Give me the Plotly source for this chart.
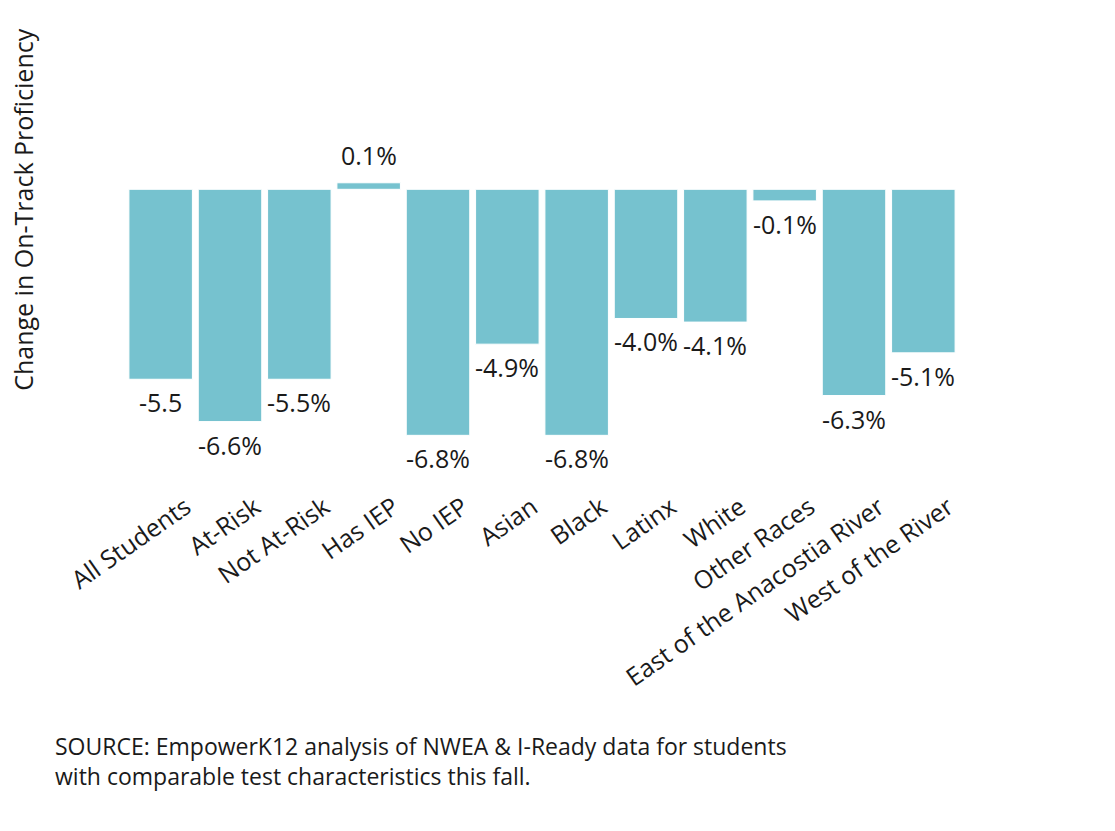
import plotly.graph_objects as go

# Categories (x-axis)
categories = ["All Students", "At-Risk", "Not At-Risk", "Has IEP", "No IEP", "Asian",
              "Black", "Latinx", "White", "Other Races", "East of the Anacostia River",
              "West of the River"]
# Bar lengths as drawn in the picture (percentage points)
bar_values = [-5.25, -6.42, -5.25, 0.18, -6.80, -4.28, -6.80, -3.57, -3.67, -0.32, -5.70, -4.52]
# Value labels printed on the chart
value_labels = ["-5.5", "-6.6%", "-5.5%", "0.1%", "-6.8%", "-4.9%", "-6.8%", "-4.0%",
                "-4.1%", "-0.1%", "-6.3%", "-5.1%"]
source_lines = ["SOURCE: EmpowerK12 analysis of NWEA &amp; I-Ready data for students",
                "with comparable test characteristics this fall."]

FONT = "Open Sans, Noto Sans, sans-serif"
TEXT = "#1a1a1a"
BAR = "#76C2CF"

fig = go.Figure()
fig.add_trace(go.Bar(
    x=categories, y=bar_values,
    marker=dict(color=BAR, line=dict(color="white", width=1)),
    hoverinfo="skip", showlegend=False,
))

annotations = []
for cat, val, lab in zip(categories, bar_values, value_labels):
    annotations.append(dict(
        x=cat, y=val, xref="x", yref="y", text=lab, showarrow=False,
        xanchor="center", yanchor="middle",
        yshift=(28 if val > 0 else -23),
        font=dict(family=FONT, size=25, color=TEXT),
    ))

annotations.append(dict(
    xref="paper", yref="paper", x=-0.1242, y=0.705, text="Change in On-Track Proficiency",
    textangle=-90, showarrow=False, xanchor="center", yanchor="middle", borderpad=0,
    font=dict(family=FONT, size=25, color=TEXT),
))
annotations.append(dict(
    xref="paper", yref="paper", x=-0.088, y=-0.786,
    text="<br>".join(source_lines), showarrow=False, xanchor="left", yanchor="middle",
    align="left", font=dict(family=FONT, size=23, color=TEXT),
))

fig.update_layout(
    width=1115, height=831,
    margin=dict(l=118, r=165, t=92, b=369),
    paper_bgcolor="white", plot_bgcolor="white",
    bargap=0.084,
    annotations=annotations,
    font=dict(family=FONT, color=TEXT),
    xaxis=dict(
        tickangle=-35, ticks="", showline=False, showgrid=False, zeroline=False,
        tickfont=dict(family=FONT, size=25, color=TEXT),
        ticklabelshift=25, ticklabelstandoff=17,
    ),
    yaxis=dict(
        range=[-7.758, 2.468], showticklabels=False, showgrid=False,
        zeroline=False, showline=False, ticks="",
    ),
)

fig.write_html("out.html")
